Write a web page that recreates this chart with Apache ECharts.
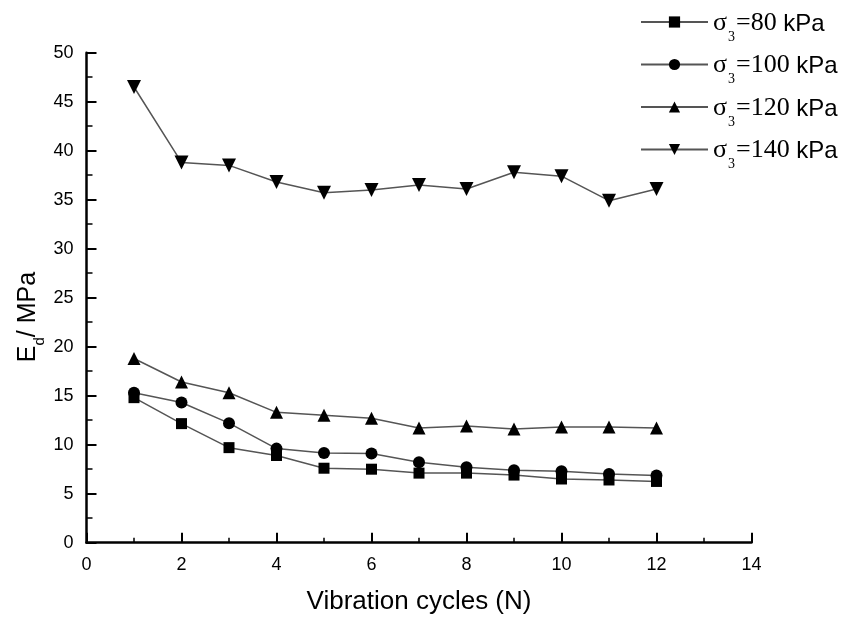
<!DOCTYPE html>
<html><head><meta charset="utf-8">
<script src="https://cdn.jsdelivr.net/npm/echarts@6/dist/echarts.min.js"></script>
<style>html,body{margin:0;padding:0;background:#fff}#c{width:856px;height:624px}</style>
</head><body><div id="c"></div>
<script>
const cycles = [1,2,3,4,5,6,7,8,9,10,11,12];
const s80  = [14.8,12.15,9.7,8.9,7.6,7.5,7.1,7.1,6.9,6.5,6.4,6.25];
const s100 = [15.3,14.3,12.2,9.6,9.15,9.1,8.2,7.7,7.4,7.3,7.0,6.85];
const s120 = [18.8,16.4,15.3,13.3,13.0,12.7,11.7,11.9,11.6,11.8,11.8,11.7];
const s140 = [46.5,38.8,38.5,36.8,35.7,36.0,36.5,36.1,37.8,37.4,34.9,36.1];
const seriesNames = ['80','100','120','140'];
const xTicks = [0,2,4,6,8,10,12,14];
const yTicks = [0,5,10,15,20,25,30,35,40,45,50];

const symbols = ['rect','circle','triangle','path://M0,0 L10,0 L5,9 Z'];
const sizes = [11,12,13,14];
const data = [s80,s100,s120,s140];

const chart = echarts.init(document.getElementById('c'));
chart.setOption({
  animation:false,
  backgroundColor:'#fff',
  grid:{left:86.5,right:104.5,top:52.7,bottom:81.3},
  legend:{
    orient:'vertical', left:635, top:5, itemWidth:67, itemHeight:14, itemGap:8.5,
    data: seriesNames.map(n=>'s'+n),
    formatter: name => '{g|σ}{sub|3}{g|=' + name.slice(1) + '}{k| kPa}',
    textStyle:{
      color:'#000',
      rich:{
        g:{fontFamily:'Liberation Serif',fontSize:26,color:'#000',lineHeight:28,verticalAlign:'bottom'},
        sub:{fontFamily:'Liberation Serif',fontSize:14,color:'#000',lineHeight:28,verticalAlign:'bottom',padding:[0,1,-8,1]},
        k:{fontFamily:'Liberation Sans',fontSize:24,color:'#000',lineHeight:28,verticalAlign:'bottom'}
      }
    }
  },
  xAxis:{
    type:'value', min:0, max:14, interval:2,
    axisLine:{lineStyle:{color:'#000',width:2.5}},
    axisTick:{inside:true,length:10,lineStyle:{color:'#000',width:2}},
    minorTick:{show:true,splitNumber:2,length:5,lineStyle:{color:'#000',width:1.5}},
    splitLine:{show:false},
    axisLabel:{color:'#000',fontFamily:'Liberation Sans',fontSize:18,margin:13,
      formatter:v=>xTicks.includes(v)?String(v):''},
    name:'Vibration cycles (N)', nameLocation:'middle', nameGap:46,
    nameTextStyle:{color:'#000',fontFamily:'Liberation Sans',fontSize:26}
  },
  yAxis:{
    type:'value', min:0, max:50, interval:5,
    axisLine:{show:true,lineStyle:{color:'#000',width:2.5}},
    axisTick:{show:true,inside:true,length:10,lineStyle:{color:'#000',width:2}},
    minorTick:{show:true,splitNumber:2,length:6,lineStyle:{color:'#000',width:1.5}},
    splitLine:{show:false},
    axisLabel:{color:'#000',fontFamily:'Liberation Sans',fontSize:18,margin:13,
      formatter:v=>yTicks.includes(v)?String(v):''}
  },
  graphic:[{
    type:'text', rotation:Math.PI/2, x:27, y:317,
    style:{
      text:'{e|E}{d|d}{e|/ MPa}',
      align:'center', verticalAlign:'middle',
      fill:'#000',
      rich:{
        e:{fontFamily:'Liberation Sans',fontSize:25,fill:'#000',lineHeight:28,verticalAlign:'bottom'},
        d:{fontFamily:'Liberation Sans',fontSize:15,fill:'#000',lineHeight:28,verticalAlign:'bottom',padding:[0,0,-6,0]}
      }
    }
  }],
  series: data.map((d,i)=>({
    name:'s'+seriesNames[i],
    type:'line',
    data: cycles.map((c,j)=>[c,d[j]]),
    symbol:symbols[i],
    symbolSize:sizes[i],
    showAllSymbol:true,
    itemStyle:{color:'#000'},
    lineStyle:{color:'#555',width:1.5}
  }))
});
</script></body></html>
